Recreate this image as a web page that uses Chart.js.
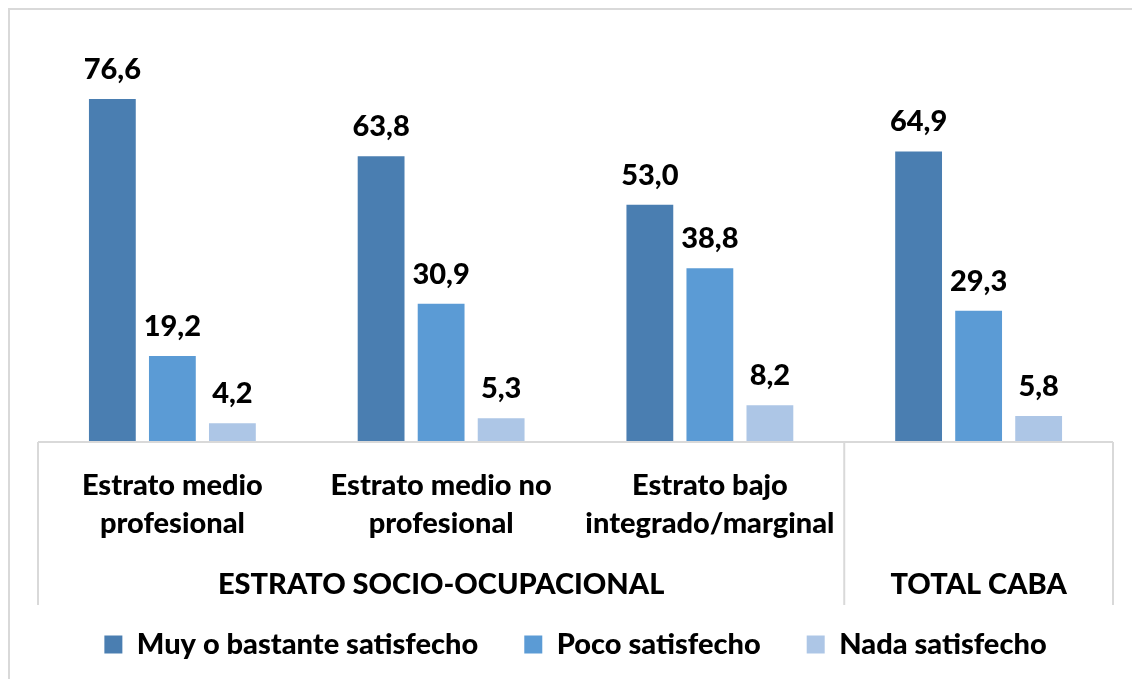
<!DOCTYPE html>
<html>
<head>
<meta charset="utf-8">
<script src="https://cdn.jsdelivr.net/npm/chart.js@4.4.1/dist/chart.umd.min.js"></script>
<style>
  html, body { margin: 0; padding: 0; background: #fff; }
  #wrap { width: 1132px; height: 679px; position: relative; }
</style>
</head>
<body>
<div id="wrap"><canvas id="chart"></canvas></div>
<script>
// Data
const categories = [
  ["Estrato medio", "profesional"],
  ["Estrato medio no", "profesional"],
  ["Estrato bajo", "integrado/marginal"],
  ""
];
const groupLabels = ["ESTRATO SOCIO-OCUPACIONAL", "TOTAL CABA"];
const seriesNames = ["Muy o bastante satisfecho", "Poco satisfecho", "Nada satisfecho"];
const muySatisfecho = [76.6, 63.8, 53.0, 64.9];
const pocoSatisfecho = [19.2, 30.9, 38.8, 29.3];
const nadaSatisfecho = [4.2, 5.3, 8.2, 5.8];

const colors = ["#4a7eb1", "#5b9bd5", "#adc6e6"];
const FONT = "Lato";
const SIZE = 29;
const WEIGHT = "900";

// Frame, axis line, separators and group labels
const framePlugin = {
  id: "frame",
  beforeDraw(chart) {
    const ctx = chart.ctx;
    ctx.save();
    ctx.fillStyle = "#fff";
    ctx.fillRect(0, 0, chart.width, chart.height);
    ctx.strokeStyle = "#d9d9d9";
    ctx.lineWidth = 2;
    ctx.strokeRect(9, 9, 1400, 900);
    ctx.restore();
  },
  afterDraw(chart) {
    const ctx = chart.ctx;
    const area = chart.chartArea;
    const x = chart.scales.x;
    const split = (x.getPixelForValue(2) + x.getPixelForValue(3)) / 2;
    const lineBottom = area.bottom + 163;
    ctx.save();
    ctx.strokeStyle = "#d9d9d9";
    ctx.lineWidth = 2;
    ctx.beginPath();
    ctx.moveTo(area.left, area.bottom);
    ctx.lineTo(area.right, area.bottom);
    [area.left, split, area.right].forEach((px) => {
      ctx.moveTo(px, area.bottom);
      ctx.lineTo(px, lineBottom);
    });
    ctx.stroke();

    ctx.fillStyle = "#000";
    ctx.font = WEIGHT + " " + SIZE + "px " + FONT;
    ctx.textAlign = "center";
    ctx.textBaseline = "middle";
    ctx.fillText(groupLabels[0], (area.left + split) / 2, area.bottom + 143);
    ctx.fillText(groupLabels[1], (split + area.right) / 2, area.bottom + 143);
    ctx.restore();
  },
  afterDatasetsDraw(chart) {
    const ctx = chart.ctx;
    ctx.save();
    ctx.fillStyle = "#000";
    ctx.font = WEIGHT + " " + SIZE + "px " + FONT;
    ctx.textAlign = "center";
    ctx.textBaseline = "alphabetic";
    chart.data.datasets.forEach((ds, i) => {
      chart.getDatasetMeta(i).data.forEach((bar, j) => {
        const label = ds.data[j].toFixed(1).replace(".", ",");
        ctx.fillText(label, bar.x, bar.y - 20);
      });
    });
    ctx.restore();
  }
};

const ctx = document.getElementById("chart").getContext("2d");
new Chart(ctx, {
  type: "bar",
  data: {
    labels: categories,
    datasets: [
      { label: seriesNames[0], data: muySatisfecho, backgroundColor: colors[0] },
      { label: seriesNames[1], data: pocoSatisfecho, backgroundColor: colors[1] },
      { label: seriesNames[2], data: nadaSatisfecho, backgroundColor: colors[2] }
    ]
  },
  options: {
    responsive: true,
    maintainAspectRatio: false,
    animation: false,
    layout: { padding: { top: 39, left: 38, right: 19, bottom: 10 } },
    datasets: {
      bar: { categoryPercentage: 0.67, barPercentage: 0.78 }
    },
    scales: {
      y: { display: false, min: 0, max: 90 },
      x: {
        grid: { display: false },
        border: { display: false },
        ticks: {
          color: "#000",
          font: { family: FONT, size: SIZE, weight: WEIGHT, lineHeight: 1.3 },
          padding: 17,
          maxRotation: 0,
          autoSkip: false
        },
        afterFit(scale) { scale.height = 142; }
      }
    },
    plugins: {
      legend: {
        position: "bottom",
        labels: {
          color: "#000",
          boxWidth: 18,
          boxHeight: 18,
          padding: 46,
          font: { family: FONT, size: SIZE, weight: WEIGHT }
        }
      },
      tooltip: { enabled: false }
    }
  },
  plugins: [framePlugin]
});
</script>
</body>
</html>
